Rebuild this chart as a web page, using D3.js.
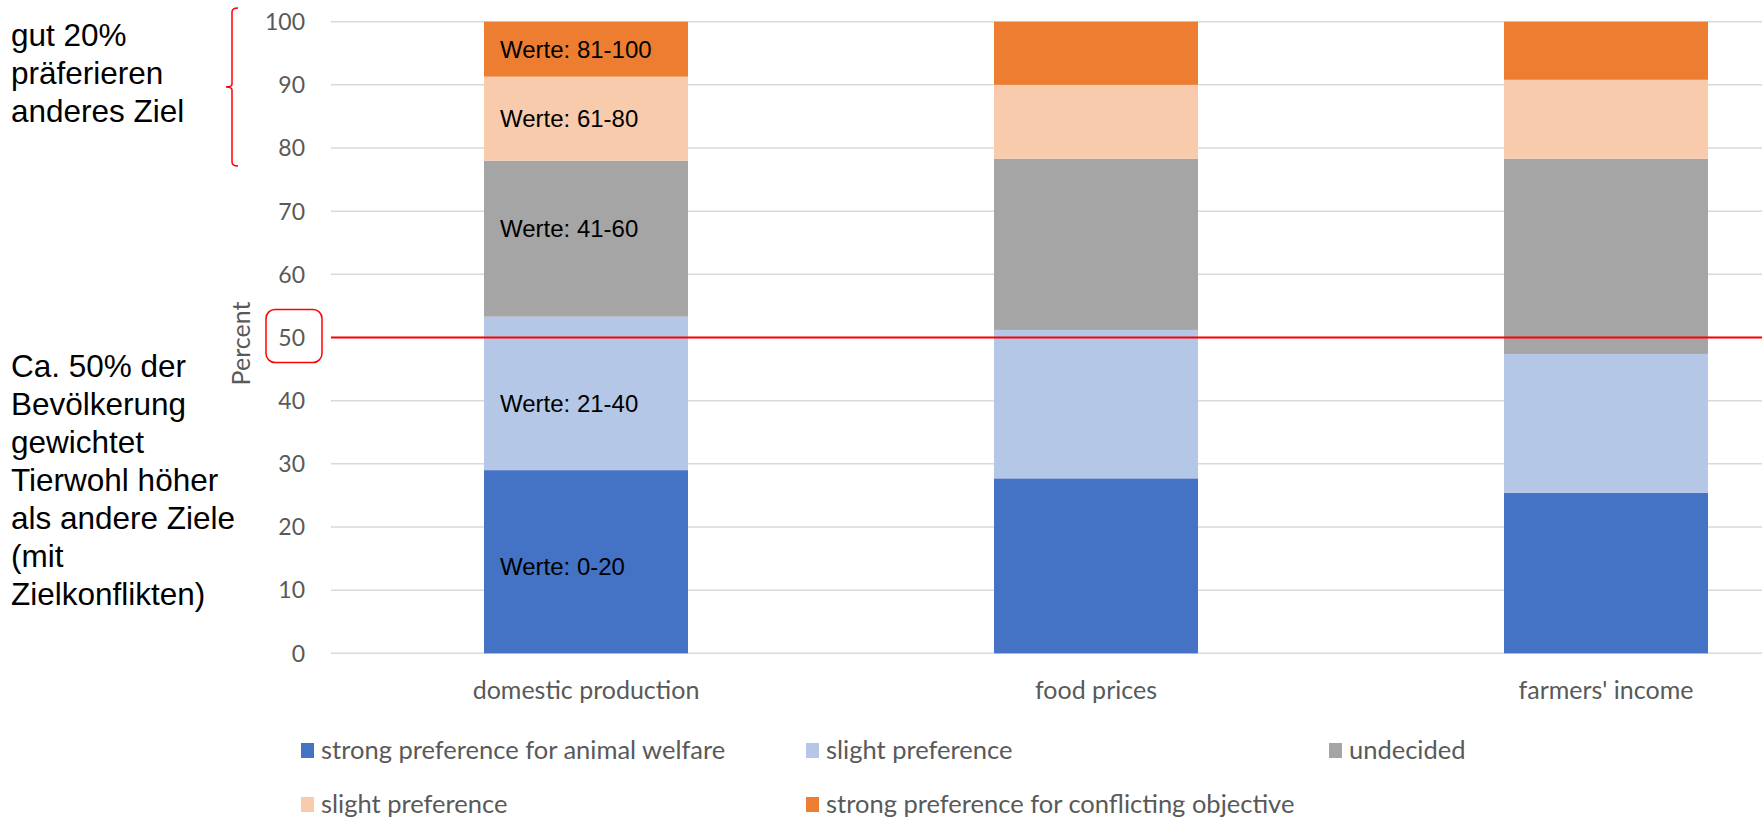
<!DOCTYPE html>
<html>
<head>
<meta charset="utf-8">
<script src="https://cdn.jsdelivr.net/npm/d3@7"></script>
<style>
  html, body { margin: 0; padding: 0; background: #fff; }
  svg { display: block; }
</style>
</head>
<body>
<svg id="chart" width="1762" height="818"></svg>
<script>
// Categories (conflicting objective weighed against animal welfare)
const categories = ["domestic production", "food prices", "farmers' income"];

// Stacked shares in percent, bottom to top
const strongAnimalWelfare = [29.0, 27.7, 25.4];
const slightAnimalWelfare = [24.3, 23.5, 22.0];
const undecided           = [24.7, 27.1, 30.9];
const slightConflicting   = [13.3, 11.7, 12.5];
const strongConflicting   = [8.7, 10.0, 9.2];

const seriesNames = [
  "strong preference for animal welfare",
  "slight preference",
  "undecided",
  "slight preference",
  "strong preference for conflicting objective"
];
const seriesColors = ["#4472c4", "#b4c7e7", "#a5a5a5", "#f8cbad", "#ed7d31"];
const segmentLabels = ["Werte: 0-20", "Werte: 21-40", "Werte: 41-60", "Werte: 61-80", "Werte: 81-100"];

const yTicks = [0, 10, 20, 30, 40, 50, 60, 70, 80, 90, 100];
const thresholdValue = 50;

const noteTop = ["gut 20%", "präferieren", "anderes Ziel"];
const noteBottom = ["Ca. 50% der", "Bevölkerung", "gewichtet", "Tierwohl höher", "als andere Ziele", "(mit", "Zielkonflikten)"];

// ---------------------------------------------------------------
const svg = d3.select("#chart");
const excelFont = "Lato, 'Open Sans', 'DejaVu Sans', sans-serif";
const arialFont = "'Liberation Sans', Arial, sans-serif";
const axisGrey = "#595959";

const seriesValues = [strongAnimalWelfare, slightAnimalWelfare, undecided, slightConflicting, strongConflicting];
const rows = categories.map((c, i) => {
  const r = { category: c };
  seriesValues.forEach((s, k) => { r["s" + k] = s[i]; });
  return r;
});
const keys = seriesValues.map((_, k) => "s" + k);
const stacked = d3.stack().keys(keys)(rows);

const plotLeft = 331, plotRight = 1861, plotTop = 21.7, plotBottom = 653.3;

const x = d3.scaleBand()
  .domain(categories)
  .range([plotLeft, plotRight])
  .paddingInner(0.6)
  .paddingOuter(0.3);

const y = d3.scaleLinear().domain([0, 100]).range([plotBottom, plotTop]);

// Gridlines
svg.append("g")
  .selectAll("line")
  .data(yTicks)
  .join("line")
  .attr("x1", plotLeft).attr("x2", plotRight)
  .attr("y1", d => y(d)).attr("y2", d => y(d))
  .attr("stroke", "#d9d9d9")
  .attr("stroke-width", 1.5);

// Y tick labels
const yAxis = svg.append("g")
  .attr("transform", `translate(${plotLeft - 26},0)`)
  .call(d3.axisLeft(y).tickValues(yTicks).tickSize(0).tickPadding(0));
yAxis.select(".domain").remove();
yAxis.selectAll("text")
  .attr("font-family", excelFont)
  .attr("font-size", 23)
  .attr("fill", axisGrey)
  .attr("dy", "0.34em");

// Y axis title
svg.append("text")
  .attr("transform", `translate(${plotLeft - 81},${(plotTop + plotBottom) / 2 + 6}) rotate(-90)`)
  .attr("text-anchor", "middle")
  .attr("font-family", excelFont)
  .attr("font-size", 25)
  .attr("fill", axisGrey)
  .text("Percent");

// Stacked bars
const layers = svg.append("g")
  .selectAll("g")
  .data(stacked)
  .join("g")
  .attr("fill", (d, i) => seriesColors[i]);

layers.selectAll("rect")
  .data(d => d)
  .join("rect")
  .attr("x", d => x(d.data.category))
  .attr("width", x.bandwidth())
  .attr("y", d => y(d[1]))
  .attr("height", d => y(d[0]) - y(d[1]));

// Segment range labels on the first bar (text boxes slightly nudged from segment centres)
const labelNudge = [5, 10, -10, 0, 0];
const firstCat = categories[0];
svg.append("g")
  .selectAll("text")
  .data(stacked)
  .join("text")
  .attr("x", x(firstCat) + 16)
  .attr("y", (d, i) => y((d[0][0] + d[0][1]) / 2) + labelNudge[i])
  .attr("dy", "0.35em")
  .attr("font-family", arialFont)
  .attr("font-size", 24)
  .attr("fill", "#000")
  .text((d, i) => segmentLabels[i]);

// Category labels
svg.append("g")
  .selectAll("text")
  .data(categories)
  .join("text")
  .attr("x", d => x(d) + x.bandwidth() / 2)
  .attr("y", plotBottom + 46)
  .attr("text-anchor", "middle")
  .attr("font-family", excelFont)
  .attr("font-size", 25)
  .attr("fill", axisGrey)
  .text(d => d);

// 50 % threshold line
svg.append("line")
  .attr("x1", plotLeft).attr("x2", plotRight)
  .attr("y1", y(thresholdValue)).attr("y2", y(thresholdValue))
  .attr("stroke", "#ff0000")
  .attr("stroke-width", 2);

// Rounded highlight around the 50 tick label
svg.append("rect")
  .attr("x", plotLeft - 65)
  .attr("y", y(thresholdValue) - 28)
  .attr("width", 56)
  .attr("height", 53)
  .attr("rx", 9)
  .attr("fill", "none")
  .attr("stroke", "#ff0000")
  .attr("stroke-width", 1.5);

// Brace marking the upper 20 %
const braceX = 232, braceTop = 8, braceBottom = 166, braceMid = 87;
svg.append("path")
  .attr("d", `M${braceX + 6},${braceTop} Q${braceX},${braceTop} ${braceX},${braceTop + 4}
              L${braceX},${braceMid - 3} Q${braceX},${braceMid} ${braceX - 6},${braceMid}
              Q${braceX},${braceMid} ${braceX},${braceMid + 3}
              L${braceX},${braceBottom - 4} Q${braceX},${braceBottom} ${braceX + 6},${braceBottom}`)
  .attr("fill", "none")
  .attr("stroke", "#ff0000")
  .attr("stroke-width", 1.5);

// Annotation texts
function note(lines, x0, firstBaseline) {
  svg.append("text")
    .attr("font-family", arialFont)
    .attr("font-size", 31.5)
    .attr("fill", "#000")
    .selectAll("tspan")
    .data(lines)
    .join("tspan")
    .attr("x", x0)
    .attr("y", (d, i) => firstBaseline + i * 38)
    .text(d => d);
}
note(noteTop, 11, 46);
note(noteBottom, 11, 377);

// Legend
const legendPos = [
  { x: 301, y: 751 }, { x: 806, y: 751 }, { x: 1329, y: 751 },
  { x: 301, y: 805 }, { x: 806, y: 805 }
];
const legend = svg.append("g")
  .selectAll("g")
  .data(seriesNames)
  .join("g")
  .attr("transform", (d, i) => `translate(${legendPos[i].x},${legendPos[i].y})`);
legend.append("rect")
  .attr("x", 0).attr("y", -8)
  .attr("width", 13).attr("height", 15)
  .attr("fill", (d, i) => seriesColors[i]);
legend.append("text")
  .attr("x", 20)
  .attr("dy", "0.32em")
  .attr("font-family", excelFont)
  .attr("font-size", 25.5)
  .attr("fill", axisGrey)
  .text(d => d);
</script>
</body>
</html>
